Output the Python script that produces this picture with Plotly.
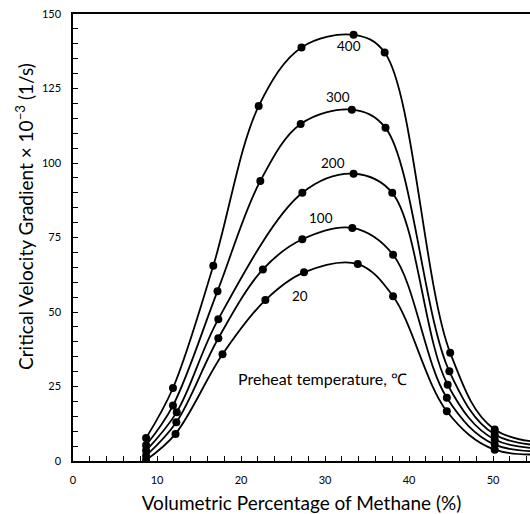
import plotly.graph_objects as go

# Data
x_400 = [8.7, 11.9, 16.7, 22.1, 27.2, 33.4, 37.1, 44.9, 50.2, 60.0]
y_400 = [7.7, 24.5, 65.5, 119.1, 138.8, 143.0, 137.1, 36.3, 10.6, 5.6]

x_300 = [8.7, 11.9, 17.2, 22.3, 27.1, 33.2, 37.2, 44.8, 50.2, 60.0]
y_300 = [5.3, 18.6, 57.0, 94.0, 113.1, 117.9, 111.8, 30.1, 8.9, 4.9]

x_200 = [8.7, 12.35, 17.3, 27.3, 33.4, 38.0, 44.6, 50.2, 60.0]
y_200 = [3.5, 16.4, 47.6, 90.0, 96.4, 90.0, 25.6, 7.2, 4.3]

x_100 = [8.7, 12.3, 17.3, 22.6, 27.3, 33.25, 38.1, 44.5, 50.2, 60.0]
y_100 = [1.8, 13.0, 41.2, 64.3, 74.4, 78.2, 69.2, 21.2, 5.5, 3.7]

x_20 = [8.7, 12.2, 17.8, 22.9, 27.5, 33.9, 38.1, 44.5, 50.2, 60.0]
y_20 = [0.3, 9.1, 35.8, 54.0, 63.3, 66.1, 55.3, 16.7, 3.8, 3.0]

series = [("400", x_400, y_400), ("300", x_300, y_300), ("200", x_200, y_200),
          ("100", x_100, y_100), ("20", x_20, y_20)]

label_names = ["400", "300", "200", "100", "20"]
label_x = [32.8, 31.6, 30.9, 29.5, 27.0]
label_y = [139.2, 122.0, 100.1, 81.6, 55.3]

FONT = "Lato"

fig = go.Figure()
for name, xs, ys in series:
    fig.add_trace(go.Scatter(
        x=xs, y=ys, mode="lines+markers", name=name,
        line=dict(color="black", width=1.8, shape="spline", smoothing=1.0),
        marker=dict(color="black", size=8),
        showlegend=False,
    ))

for t, lx, ly in zip(label_names, label_x, label_y):
    fig.add_annotation(x=lx, y=ly, text=t, showarrow=False,
                       font=dict(family=FONT, size=13.5, color="black"))

fig.add_annotation(x=29.7, y=27.7, text="Preheat temperature, ℃", showarrow=False,
                   font=dict(family=FONT, size=16, color="black"))

# y-axis title placed as a rotated annotation
fig.add_annotation(xref="paper", yref="paper", x=-0.105, y=0.546,
                   xanchor="center", yanchor="middle", textangle=-90,
                   text="Critical Velocity Gradient × 10<sup>−3</sup> (1/s)",
                   showarrow=False,
                   font=dict(family=FONT, size=19, color="black"))

fig.update_layout(
    width=530, height=514,
    margin=dict(l=73, r=0, t=14, b=53),
    plot_bgcolor="white", paper_bgcolor="white",
    font=dict(family=FONT, color="black"),
)

fig.update_xaxes(
    range=[0, 54.4], dtick=10, tick0=0,
    showgrid=False, zeroline=False,
    showline=True, linecolor="black", linewidth=1.5, mirror=True,
    ticks="inside", ticklen=5, tickwidth=1, tickcolor="black",
    minor=dict(dtick=2, ticks="inside", ticklen=5, tickcolor="black", showgrid=False),
    tickfont=dict(family=FONT, size=11, color="black"),
    ticklabelstandoff=8,
    title=dict(text="Volumetric Percentage of Methane (%)",
               font=dict(family=FONT, size=19, color="black"), standoff=12),
)

fig.update_yaxes(
    range=[0, 150], dtick=25, tick0=0,
    showgrid=False, zeroline=False,
    showline=True, linecolor="black", linewidth=1.5, mirror=False,
    ticks="inside", ticklen=5, tickwidth=1, tickcolor="black",
    minor=dict(dtick=5, ticks="inside", ticklen=5, tickcolor="black", showgrid=False),
    tickfont=dict(family=FONT, size=11, color="black"),
    ticklabelstandoff=8,
)

fig.write_html("out.html")
